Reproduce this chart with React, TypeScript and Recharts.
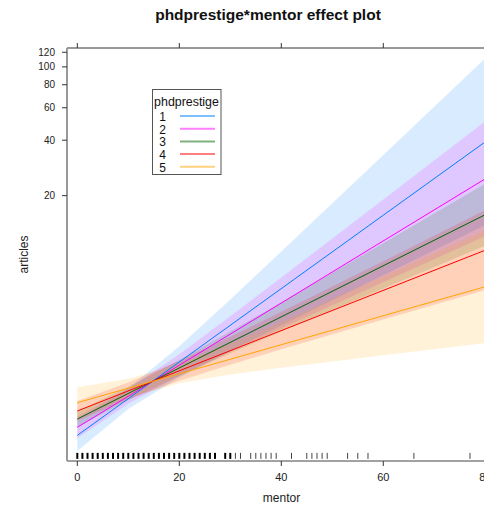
import { ComposedChart, Area, Line, Scatter, XAxis, YAxis } from 'recharts';

const mentorGrid = [0, 10, 20, 30, 40, 60, 80];

// band edges (articles) per phdprestige level
const lower1 = [0.822, 1.392, 2.058, 2.869, 3.947, 7.4, 13.82];
const upper1 = [1.218, 1.801, 3.047, 5.47, 9.948, 33.22, 111.4];
const lower2 = [0.964, 1.487, 2.096, 2.835, 3.799, 6.774, 12.04];
const upper2 = [1.269, 1.789, 2.759, 4.434, 7.192, 19.07, 50.69];
const lower3 = [1.11, 1.552, 2.102, 2.787, 3.665, 6.277, 10.71];
const upper3 = [1.356, 1.836, 2.567, 3.666, 5.28, 11.05, 23.24];
const lower4 = [1.197, 1.572, 1.978, 2.421, 2.932, 4.253, 6.138];
const upper4 = [1.537, 1.934, 2.54, 3.429, 4.681, 8.814, 16.68];
const lower5 = [1.241, 1.601, 1.919, 2.137, 2.329, 2.726, 3.172];
const upper5 = [1.823, 2.031, 2.434, 3.141, 4.141, 7.305, 12.96];

// fitted lines: value at mentor 0 and at mentor 80
const levels = ['1', '2', '3', '4', '5'];
const fitStart = [1.0, 1.106, 1.227, 1.356, 1.504];
const fitEnd = [39.2, 24.7, 15.77, 10.12, 6.41];
const colors = ['#0080ff', '#ff00ff', '#006400', '#ff0000', '#ffa500'];

// rug of observed mentor values
const rugDense = [0, 1, 2, 3, 4, 5, 6, 7, 8, 9, 10, 11, 12, 13, 14, 15, 16, 17, 18, 19, 20, 21, 22, 23, 24, 25, 26, 27, 29, 30];
const rugSparse = [31, 32, 34, 35, 36, 37, 38, 39, 42, 45, 46, 47, 48, 49, 53, 55, 57, 66, 77];

const xTicks = [0, 20, 40, 60, 80];
const yTicks = [20, 40, 60, 80, 100, 120];

const lowers = [lower1, lower2, lower3, lower4, lower5];
const uppers = [upper1, upper2, upper3, upper4, upper5];

const bandRows = mentorGrid.map((m, i) => {
  const row: Record<string, number> = { mentor: m };
  levels.forEach((_, k) => {
    row[`lo${k}`] = lowers[k][i];
    row[`hi${k}`] = uppers[k][i];
  });
  return row;
});

const RUG_Y = 0.774;
const denseData = rugDense.map(m => ({ mentor: m, y: RUG_Y }));
const sparseData = rugSparse.map(m => ({ mentor: m, y: RUG_Y }));

const font = '"Liberation Sans", Arial, sans-serif';

function rugTick(width: number, color: string) {
  return (props: any) => (
    <line x1={props.cx} x2={props.cx} y1={props.cy - 3} y2={props.cy + 3} stroke={color} strokeWidth={width} />
  );
}

export default function App() {
  const legendTop = 89;
  const rowY = [116, 128.7, 141.4, 154.1, 166.8];
  return (
    <div style={{ position: 'fixed', left: 0, top: 0, width: 484, height: 506, overflow: 'hidden', background: '#fff', fontFamily: font }}>
      <ComposedChart width={496} height={506} data={bandRows} margin={{ top: 28, right: 0, bottom: 0, left: 0 }}>
        <XAxis
          xAxisId="top"
          orientation="top"
          dataKey="mentor"
          type="number"
          domain={[-2.02, 82.1]}
          allowDataOverflow
          ticks={xTicks}
          interval={0}
          tickFormatter={() => ''}
          height={20}
          tickSize={5}
          axisLine={{ stroke: '#333' }}
          tickLine={{ stroke: '#333' }}
        />
        <XAxis
          xAxisId="bottom"
          dataKey="mentor"
          type="number"
          domain={[-2.02, 82.1]}
          allowDataOverflow
          ticks={xTicks}
          interval={0}
          height={45}
          tickSize={5}
          tickMargin={7}
          tick={{ fontSize: 11, fill: '#222', fontFamily: font }}
          axisLine={{ stroke: '#444' }}
          tickLine={{ stroke: '#333' }}
          label={{ value: 'mentor', position: 'insideBottom', offset: 4, fontSize: 12, fill: '#222', fontFamily: font }}
        />
        <YAxis
          yAxisId="y"
          type="number"
          scale="log"
          domain={[0.726, 126.6]}
          allowDataOverflow
          ticks={yTicks}
          interval={0}
          width={67}
          tickSize={5}
          tickMargin={7}
          tick={{ fontSize: 10, fill: '#222', fontFamily: font }}
          axisLine={{ stroke: '#999', strokeWidth: 2 }}
          tickLine={{ stroke: '#333' }}
        />
        {levels.map((lv, k) => (
          <Area
            key={`band-${lv}`}
            xAxisId="bottom"
            yAxisId="y"
            type="linear"
            dataKey={(d: any) => [d[`lo${k}`], d[`hi${k}`]]}
            stroke="none"
            fill={colors[k]}
            fillOpacity={0.15}
            isAnimationActive={false}
            activeDot={false}
          />
        ))}
        {levels.map((lv, k) => (
          <Line
            key={`line-${lv}`}
            xAxisId="bottom"
            yAxisId="y"
            type="linear"
            data={[
              { mentor: 0, fit: fitStart[k] },
              { mentor: 80, fit: fitEnd[k] },
            ]}
            dataKey="fit"
            stroke={colors[k]}
            strokeWidth={1}
            dot={false}
            activeDot={false}
            isAnimationActive={false}
          />
        ))}
        <Scatter xAxisId="bottom" yAxisId="y" data={denseData} dataKey="y" shape={rugTick(2, '#000')} isAnimationActive={false} />
        <Scatter xAxisId="bottom" yAxisId="y" data={sparseData} dataKey="y" shape={rugTick(1, '#444')} isAnimationActive={false} />
      </ComposedChart>
      <svg width={484} height={506} style={{ position: 'absolute', left: 0, top: 0, pointerEvents: 'none' }}>
        <text x={268} y={19.5} textAnchor="middle" fontSize={15.5} fontWeight="bold" fill="#111" fontFamily={font}>
          phdprestige*mentor effect plot
        </text>
        <text x={28} y={254.5} transform="rotate(-90 28 254.5)" textAnchor="middle" fontSize={12} fill="#222" fontFamily={font}>
          articles
        </text>
        <rect x={152.5} y={legendTop + 0.5} width={68.5} height={85} fill="#fff" stroke="#555" />
        <text x={186.5} y={105.5} textAnchor="middle" fontSize={12.4} fill="#111" fontFamily={font}>
          phdprestige
        </text>
        {levels.map((lv, k) => (
          <g key={`leg-${lv}`}>
            <text x={162.5} y={rowY[k] + 5} textAnchor="middle" fontSize={12} fill="#111" fontFamily={font}>
              {lv}
            </text>
            <line x1={180} x2={215} y1={rowY[k]} y2={rowY[k]} stroke={colors[k]} strokeOpacity={0.5} strokeWidth={2} />
          </g>
        ))}
      </svg>
    </div>
  );
}
